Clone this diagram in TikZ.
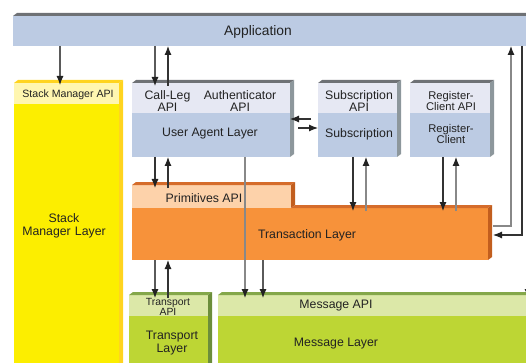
\documentclass[tikz,border=0pt]{standalone}
\usepackage{fontspec}
\setmainfont{Liberation Sans}
\usetikzlibrary{arrows.meta,calc}

\definecolor{appblue}{HTML}{BCCBE3}
\definecolor{apilav}{HTML}{E6E8F3}
\definecolor{slate}{HTML}{6E7175}
\definecolor{slateside}{HTML}{8D979C}
\definecolor{smyellow}{HTML}{FCEE00}
\definecolor{smapicol}{HTML}{FFF6B0}
\definecolor{smgold}{HTML}{FFD41F}
\definecolor{txorange}{HTML}{F7923A}
\definecolor{txapi}{HTML}{FDD2AA}
\definecolor{txtop}{HTML}{D56C2B}
\definecolor{txside}{HTML}{C25E1E}
\definecolor{lime}{HTML}{BDD634}
\definecolor{limeapi}{HTML}{DCE8A8}
\definecolor{limetop}{HTML}{84A74A}
\definecolor{limeside}{HTML}{6C8E3B}
\definecolor{ink}{HTML}{222222}
\definecolor{wire}{HTML}{333333}
\definecolor{wiremid}{HTML}{5A5A5A}
\definecolor{wiregray}{HTML}{888888}

\tikzset{
  face/.style={inner sep=0pt, outer sep=0pt, anchor=north west, draw=none},
  lbl/.style={font=\fontsize{12.3}{11.5}\selectfont, align=center, text=ink, inner sep=0pt},
  small/.style={font=\fontsize{10.6}{10.5}\selectfont},
  wr/.style={line width=1.1pt, draw=wire, -{Latex[length=9pt,width=7pt,color=ink]}},
  wrm/.style={wr, draw=wiremid},
  wrg/.style={wr, draw=wiregray},
}

% flat front face of a block: name, x1, y1, x2, y2, fill
\newcommand\slab[6]{\node[face, fill=#6, minimum width={(#4-#2)*1pt}, minimum height={(#5-#3)*1pt}] (#1) at (#2,#3) {};}
% top and right faces of a block: upper node, lower node, top colour, side colour
\newcommand\depth[4]{%
  \fill[#3] (#1.north west) -- ++(4,-3) -- ([shift={(4,-3)}]#1.north east) -- (#1.north east) -- cycle;
  \fill[#4] (#1.north east) -- ++(4,-3) -- ([shift={(4,-3)}]#2.south east) -- (#2.south east) -- cycle;}

\begin{document}
\begin{tikzpicture}[x=1pt,y=-1pt]
\useasboundingbox (0,0) rectangle (526,363);

% Application
\slab{app}{13}{16}{540}{46}{appblue}
\fill[slate] (app.north west) -- ++(4,-3) -- ([shift={(4,-3)}]app.north east) -- (app.north east) -- cycle;

% Stack manager
\slab{smapi}{14}{83}{119}{104}{smapicol}
\slab{smbody}{14}{104}{119}{380}{smyellow}
\depth{smapi}{smbody}{smgold}{smgold}

% User agent
\slab{uaapi}{132}{83}{290}{113}{apilav}
\slab{uabody}{132}{113}{290}{157}{appblue}
\depth{uaapi}{uabody}{slate}{slateside}

% Subscription
\slab{subapi}{318}{83}{397}{113}{apilav}
\slab{subbody}{318}{113}{397}{157}{appblue}
\depth{subapi}{subbody}{slate}{slateside}

% Register-client
\slab{regapi}{410}{83}{490}{113}{apilav}
\slab{regbody}{410}{113}{490}{157}{appblue}
\depth{regapi}{regbody}{slate}{slateside}

% Transaction
\slab{primapi}{132}{185}{291}{208}{txapi}
\slab{trbody}{132}{208}{488}{260}{txorange}
\depth{primapi}{primapi}{txtop}{txside}
\fill[txtop] (primapi.south east) -- ++(4,-3) -- ([shift={(4,-3)}]trbody.north east) -- (trbody.north east) -- cycle;
\fill[txside] (trbody.north east) -- ++(4,-3) -- ([shift={(4,-3)}]trbody.south east) -- (trbody.south east) -- cycle;

% Transport
\slab{tpapi}{129}{295}{208}{316}{limeapi}
\slab{tpbody}{129}{316}{208}{380}{lime}
\depth{tpapi}{tpbody}{limetop}{limeside}

% Message
\slab{msgapi}{218}{295}{540}{316}{limeapi}
\slab{msgbody}{218}{316}{540}{380}{lime}
\depth{msgapi}{msgbody}{limetop}{limeside}

% labels
\node[lbl, font=\fontsize{13.8}{14}\selectfont] (tapp) at (258,32) {Application};
\node[lbl, small] (tsmapi) at (68,94.5) {Stack Manager API};
\node[lbl, text width=100pt, font=\fontsize{12.3}{13}\selectfont] (tsm) at (64,226) {Stack\\Manager Layer};
\node[lbl] (tcall) at (167.5,101) {Call-Leg\\API};
\node[lbl] (tauth) at (240,101) {Authenticator\\API};
\node[lbl] (tua) at (210,134) {User Agent Layer};
\node[lbl] (tsubapi) at (359,101) {Subscription\\API};
\node[lbl] (tsub) at (359,134) {Subscription};
\node[lbl, font=\fontsize{11.2}{11}\selectfont] (tregapi) at (451,100.5) {Register-\\Client API};
\node[lbl, font=\fontsize{11.2}{11}\selectfont] (treg) at (451,134) {Register-\\Client};
\node[lbl] (tprim) at (204,198) {Primitives API};
\node[lbl] (ttr) at (307,235) {Transaction Layer};
\node[lbl, font=\fontsize{10.4}{10}\selectfont] (ttpapi) at (168,306.5) {Transport\\API};
\node[lbl, font=\fontsize{12.3}{13}\selectfont] (ttp) at (172,343) {Transport\\Layer};
\node[lbl] (tmsgapi) at (336,306) {Message API};
\node[lbl] (tmsg) at (336,343.5) {Message Layer};

% columns and rows for the connectors
\foreach \cx in {60,155,168,245,263,353,366,443,456,511,522,528}
  \coordinate (c\cx) at (\cx,0);
\coordinate (r119) at (0,119);
\coordinate (r128) at (0,128);
\coordinate (r226) at (0,226);
\coordinate (r235) at (0,235);
\coordinate (r262) at (0,262);

% application <-> stack manager, user agent
\draw[wrm, shorten >=-2pt] (c60 |- app.south) -- (c60 |- smapi.north);
\draw[wrm, shorten >=-3pt] (c155 |- app.south) -- (c155 |- uaapi.north);
\draw[wr, shorten <=-3pt] (c168 |- uaapi.north) -- (c168 |- app.south);

% user agent <-> subscription
\draw[wr] ($(subbody.west |- r119)+(-7,0)$) -- (uabody.east |- r119);
\draw[wr] ($(uabody.east |- r128)+(8,0)$) -- (subbody.west |- r128);

% user agent <-> transaction
\draw[wr, shorten >=-3pt] (c155 |- uabody.south) -- (c155 |- primapi.north);
\draw[wr, shorten <=-3pt] (c168 |- primapi.north) -- (c168 |- uabody.south);

% subscription, register-client <-> transaction
\draw[wr, shorten >=-3pt] (c353 |- subbody.south) -- (c353 |- trbody.north);
\draw[wrg, shorten <=-3pt] (c366 |- trbody.north) -- (c366 |- subbody.south);
\draw[wr, shorten >=-3pt] (c443 |- regbody.south) -- (c443 |- trbody.north);
\draw[wrg, shorten <=-3pt] (c456 |- trbody.north) -- (c456 |- regbody.south);

% transaction <-> application
\draw[wrg] ($(trbody.east |- r226)+(5,0)$) -| (c511 |- app.south);
\draw[wr] (c522 |- app.south) |- ($(trbody.east |- r235)+(5,0)$);

% down to message and transport
\draw[wrg, shorten >=-3pt] (c245 |- uabody.south) -- (c245 |- msgapi.north);
\draw[wrm, shorten >=-3pt] (c263 |- trbody.south) -- (c263 |- msgapi.north);
\draw[wrm, shorten >=-3pt] (c155 |- trbody.south) -- (c155 |- tpapi.north);
\draw[wr, shorten <=-3pt] (c168 |- tpapi.north) -- (c168 |- trbody.south);
\draw[wr, shorten >=-3pt] (c528 |- r262) -- (c528 |- msgapi.north);
\end{tikzpicture}
\end{document}
